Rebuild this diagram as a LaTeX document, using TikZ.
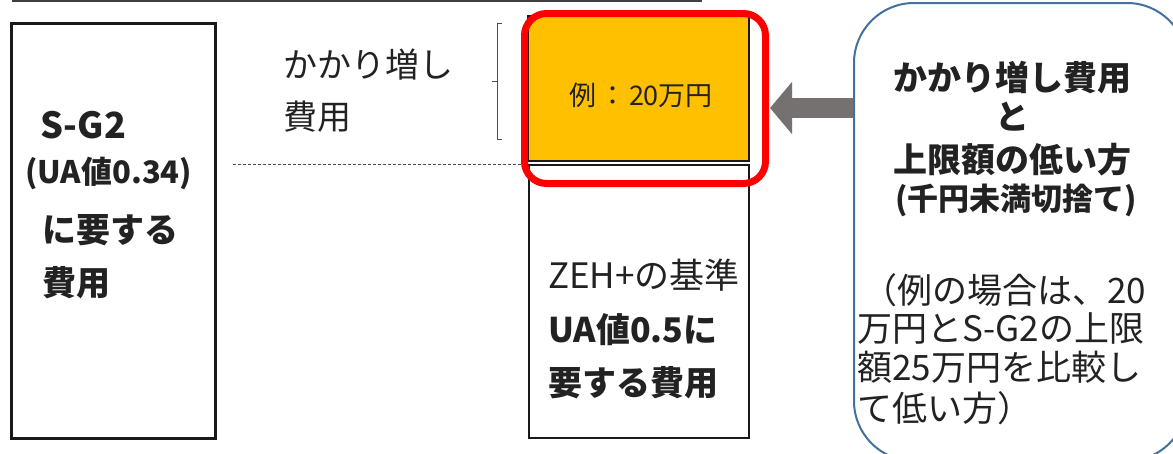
\documentclass[tikz,border=0pt]{standalone}
\usepackage{fontspec}
\setmainfont{Noto Sans CJK JP}
\usetikzlibrary{arrows.meta}
\definecolor{txt}{HTML}{222222}
\definecolor{orangeY}{HTML}{FFC000}
\definecolor{blueB}{HTML}{41719C}
\definecolor{grayA}{HTML}{767171}
\begin{document}
\begin{tikzpicture}[x=1pt,y=-1pt,
  box/.style={draw=black!90, line width=2pt, anchor=north west, inner sep=0pt},
  lbl/.style={text=txt, inner sep=0pt, font=\fontsize{34}{40}\selectfont},
  blbl/.style={lbl, font=\fontsize{34}{40}\selectfont\bfseries},
  arrowc/.style={draw=grayA, line width=20pt, -{Triangle[length=22pt,width=51pt]}}
]
\useasboundingbox (0,0) rectangle (1173,453);
% top line
\draw[line width=1.5pt, black!75] (12,1) -- (702,1);
% left box
\node[box, line width=3pt, minimum width=204pt, minimum height=415pt] (L) at (10,22) {};
\node[blbl, anchor=west, font=\fontsize{36}{40}\selectfont\bfseries] (l1) at (40,125) {S-G2};
\node[blbl, anchor=west, font=\fontsize{31}{34}\selectfont\bfseries] (l2) at (25,173) {(UA値0.34)};
\node[blbl, anchor=west] (l3) at (42,230) {に要する};
\node[blbl, anchor=west] (l4) at (42,283) {費用};
% kakari-mashi label
\node[lbl, anchor=west] (k1) at (283,65) {かかり増し};
\node[lbl, anchor=west] (k2) at (283,117) {費用};
% bracket
\draw[black!70, line width=1pt] (502,23) -- (497,23) -- (497,139) -- (502,139);
\draw[black!70, line width=1pt] (497,81) -- (492,81);
% orange box
\node[box, fill=orangeY, line width=1.5pt, minimum width=221pt, minimum height=145pt] (O) at (527,15) {};
\node[lbl, font=\fontsize{27}{30}\selectfont] (ot) at (641,95) {例\hspace{3pt}：\hspace{3pt}20万円};
% lower box
\node[box, minimum width=220pt, minimum height=273pt] (D) at (528,164) {};
\node[lbl, anchor=west, font=\fontsize{35}{40}\selectfont] (d1) at (548,275) {ZEH+の基準};
\node[blbl, anchor=west] (d2) at (548,330) {UA値0.5に};
\node[blbl, anchor=west] (d3) at (548,383) {要する費用};
% dashed line
\coordinate (ds) at (233,164);
\draw[black!70, line width=0.8pt, dash pattern=on 3pt off 2pt] (ds) -- (D.north west);
% red rounded frame
\node[draw=red, line width=7pt, rounded corners=22pt, minimum width=241pt, minimum height=170pt, anchor=north west, inner sep=0pt] (R) at (521,10) {};
% right box
\node[draw=blueB, line width=2pt, rounded corners=60pt, minimum width=333pt, minimum height=458pt, anchor=north west, inner sep=0pt] (B) at (853,2) {};
\node[blbl] (b1) at (1012,78) {かかり増し費用};
\node[blbl] (b2) at (1012,117) {と};
\node[blbl] (b3) at (1012,160) {上限額の低い方};
\node[blbl, font=\fontsize{31}{34}\selectfont\bfseries] (b4) at (1016,200) {(千円未満切捨て)};
\node[lbl, anchor=west, font=\fontsize{35}{40}\selectfont] (b5) at (862,290) {（例の場合は、20};
\node[lbl, anchor=west, font=\fontsize{35}{40}\selectfont] (b6) at (857,328) {万円とS-G2の上限};
\node[lbl, anchor=west, font=\fontsize{35}{40}\selectfont] (b7) at (857,367) {額25万円を比較し};
\node[lbl, anchor=west, font=\fontsize{35}{40}\selectfont] (b8) at (857,408) {て低い方）};
% arrow
\coordinate (at) at (770,108);
\draw[arrowc] (B.west |- at) -- (at);
\end{tikzpicture}
\end{document}
